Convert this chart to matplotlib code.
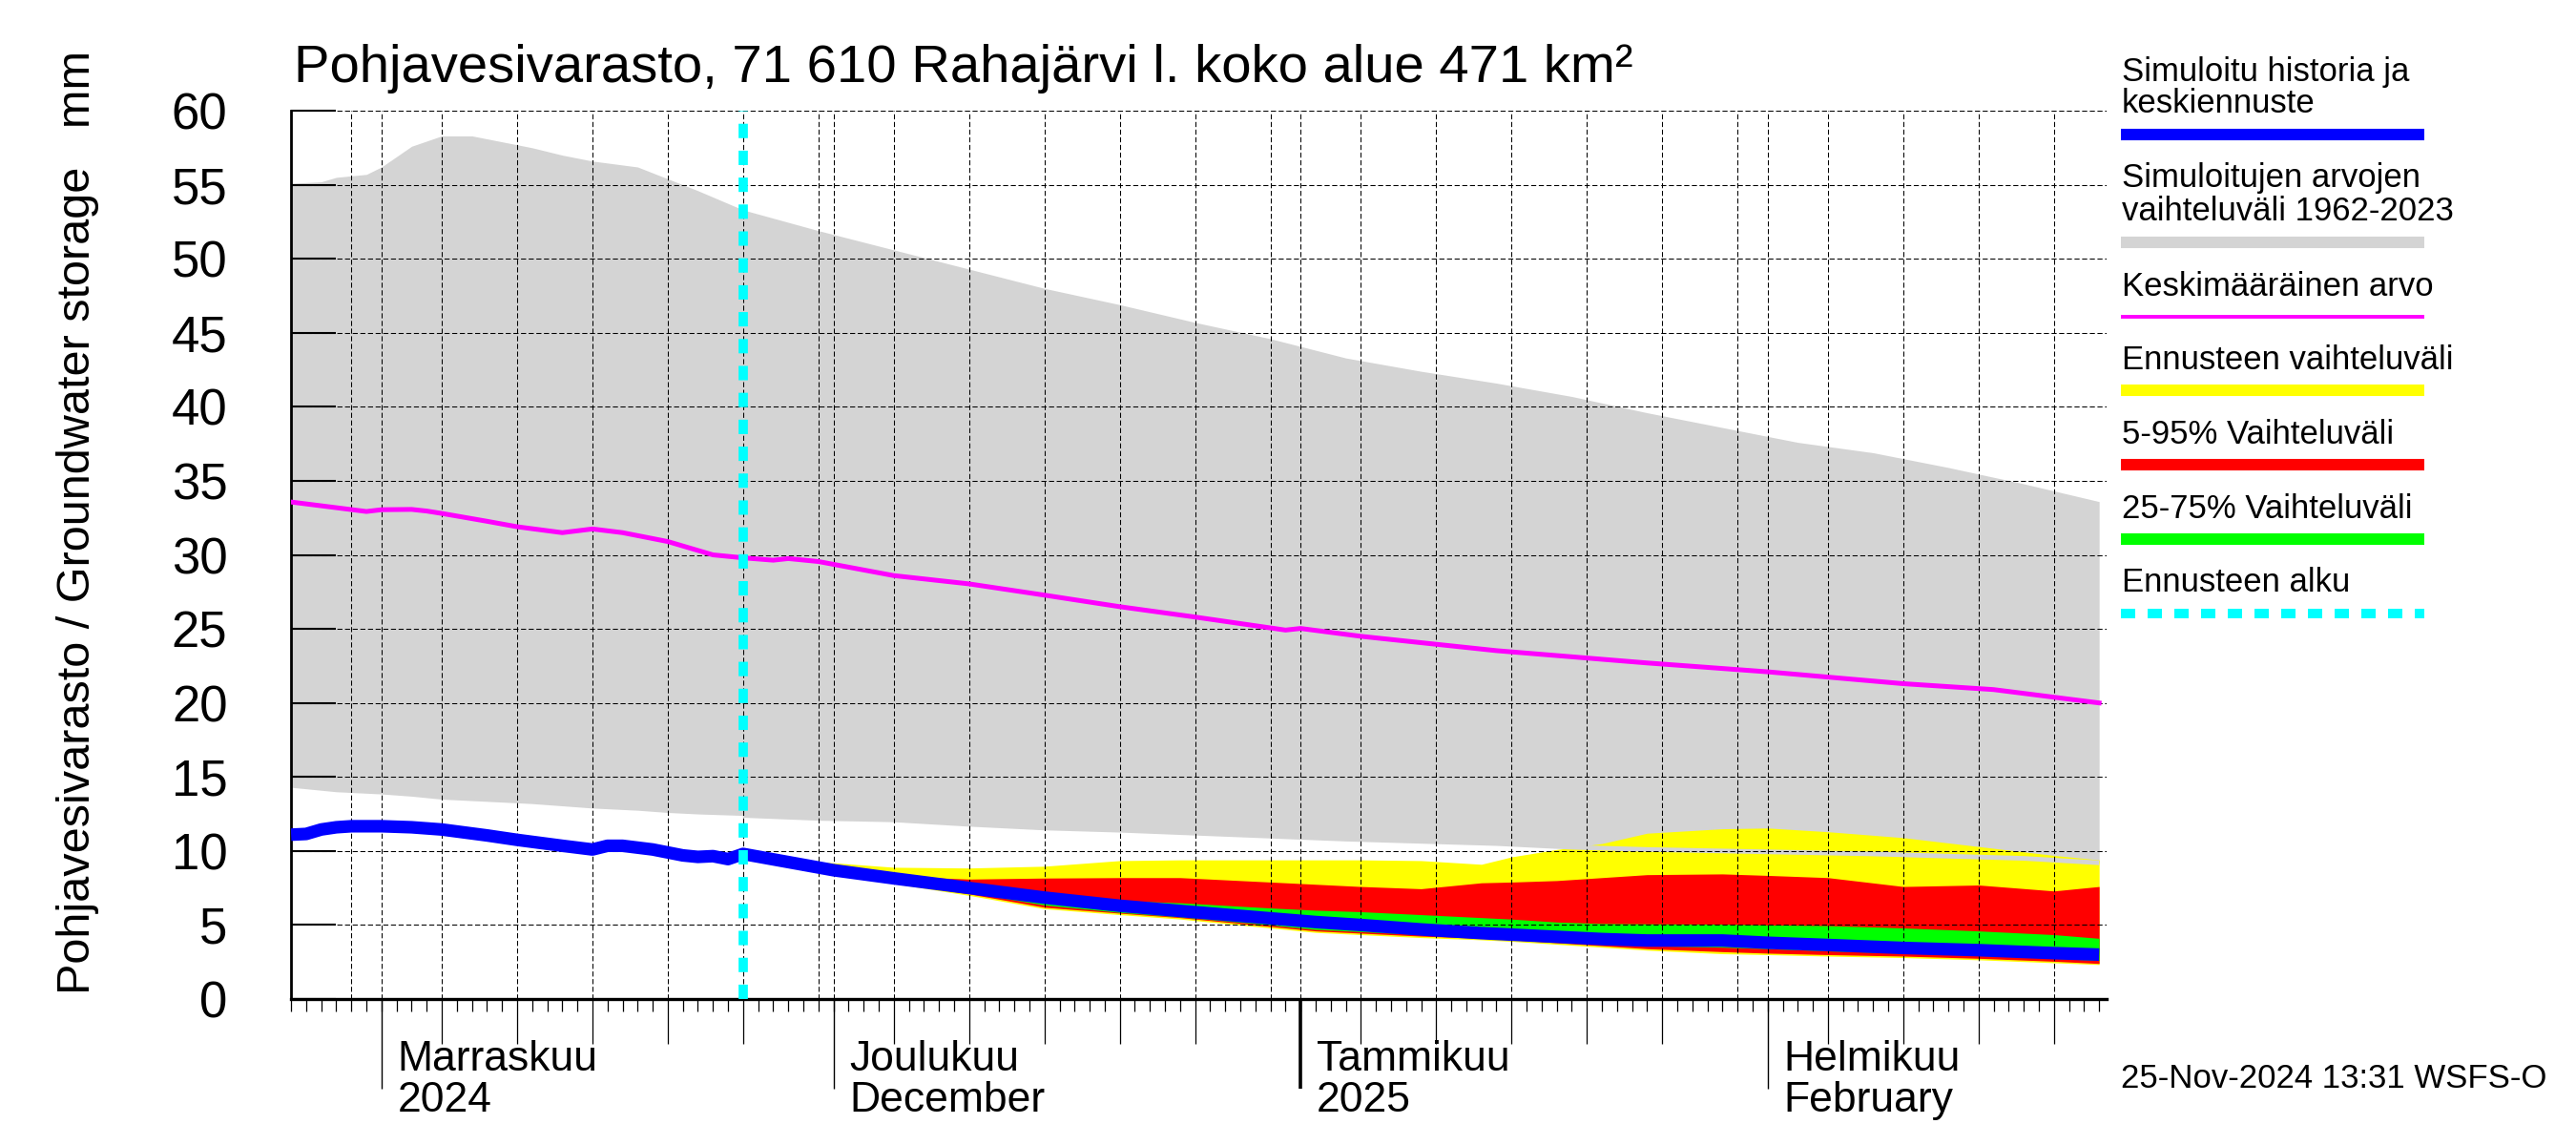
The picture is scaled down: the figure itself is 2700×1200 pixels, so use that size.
import matplotlib
matplotlib.use('Agg')
import matplotlib.pyplot as plt
import matplotlib.dates as mdates
from matplotlib.lines import Line2D
from matplotlib.ticker import NullFormatter
from datetime import datetime, timedelta

plt.rcParams['font.family'] = ['Liberation Sans', 'DejaVu Sans']


def days(lst):
    return [datetime.strptime(s, '%Y-%m-%d') for s in lst]


# vaihteluväli 1962-2023 (harmaa alue)
range_dates = days(['2024-10-26', '2024-10-28', '2024-10-29', '2024-10-31', '2024-11-01',
                    '2024-11-03', '2024-11-05', '2024-11-07', '2024-11-09', '2024-11-11',
                    '2024-11-13', '2024-11-15', '2024-11-18', '2024-11-20', '2024-11-22',
                    '2024-11-25', '2024-11-30', '2024-12-05', '2024-12-10', '2024-12-15',
                    '2024-12-20', '2024-12-25', '2024-12-30', '2025-01-04', '2025-01-09',
                    '2025-01-14', '2025-01-19', '2025-01-24', '2025-01-29', '2025-02-03',
                    '2025-02-08', '2025-02-13', '2025-02-18', '2025-02-23'])
range_max = [55.1, 55.2, 55.5, 55.7, 56.2, 57.6, 58.3, 58.3, 57.9, 57.5,
             57.0, 56.6, 56.2, 55.4, 54.6, 53.3, 51.9, 50.6, 49.3, 48.0,
             46.9, 45.7, 44.6, 43.3, 42.4, 41.6, 40.7, 39.6, 38.6, 37.6,
             36.9, 35.9, 34.8, 33.6]
range_min = [14.3, 14.1, 14.0, 13.9, 13.85, 13.7, 13.5, 13.4, 13.3, 13.2,
             13.05, 12.9, 12.75, 12.6, 12.5, 12.4, 12.2, 12.1, 11.8, 11.55,
             11.4, 11.2, 11.0, 10.8, 10.65, 10.5, 10.25, 10.1, 10.0, 9.9,
             9.8, 9.65, 9.5, 9.2]

# keskimääräinen arvo
mean_dates = days(['2024-10-26', '2024-10-31', '2024-11-01', '2024-11-03', '2024-11-04',
                   '2024-11-05', '2024-11-08', '2024-11-10', '2024-11-13', '2024-11-15',
                   '2024-11-17', '2024-11-20', '2024-11-23', '2024-11-25', '2024-11-27',
                   '2024-11-28', '2024-11-30', '2024-12-05', '2024-12-10', '2024-12-15',
                   '2024-12-20', '2024-12-25', '2024-12-31', '2025-01-01', '2025-01-05',
                   '2025-01-14', '2025-01-24', '2025-02-01', '2025-02-10', '2025-02-16',
                   '2025-02-23'])
mean_vals = [33.57, 32.93, 33.05, 33.07, 32.96, 32.8, 32.27, 31.9, 31.5, 31.75,
             31.5, 30.9, 30.0, 29.8, 29.64, 29.75, 29.55, 28.6, 28.04, 27.28,
             26.5, 25.8, 24.92, 25.03, 24.5, 23.53, 22.7, 22.1, 21.3, 20.9,
             20.0]

# simuloitu historia
hist_dates = days(['2024-10-26', '2024-10-27', '2024-10-28', '2024-10-29', '2024-10-30',
                   '2024-11-01', '2024-11-03', '2024-11-05', '2024-11-08', '2024-11-10',
                   '2024-11-13', '2024-11-15', '2024-11-16', '2024-11-17', '2024-11-19',
                   '2024-11-21', '2024-11-22', '2024-11-23', '2024-11-24', '2024-11-25'])
hist_vals = [11.1, 11.15, 11.45, 11.6, 11.67, 11.67, 11.6, 11.45, 11.05, 10.75,
             10.35, 10.1, 10.35, 10.35, 10.1, 9.7, 9.6, 9.65, 9.45, 9.8]

# ennuste
fc_dates = days(['2024-11-25', '2024-11-28', '2024-12-01', '2024-12-05', '2024-12-10',
                 '2024-12-15', '2024-12-20', '2024-12-24', '2024-12-30', '2025-01-02',
                 '2025-01-05', '2025-01-09', '2025-01-13', '2025-01-15', '2025-01-18',
                 '2025-01-21', '2025-01-24', '2025-01-29', '2025-02-01', '2025-02-05',
                 '2025-02-10', '2025-02-15', '2025-02-20', '2025-02-23'])
fc_median = [9.8, 9.25, 8.7, 8.15, 7.5, 6.85, 6.3, 5.95, 5.45, 5.2,
             5.0, 4.7, 4.45, 4.35, 4.2, 4.05, 3.95, 3.95, 3.8, 3.65,
             3.45, 3.3, 3.1, 3.0]
fc_max = [9.8, 9.4, 9.2, 8.9, 8.85, 8.97, 9.35, 9.4, 9.4, 9.4,
          9.4, 9.35, 9.1, 9.6, 10.1, 10.5, 11.2, 11.5, 11.55, 11.3,
          10.9, 10.3, 9.7, 9.4]
fc_min = [9.8, 9.1, 8.5, 7.8, 7.0, 6.1, 5.7, 5.4, 4.8, 4.5,
          4.35, 4.15, 4.0, 3.9, 3.7, 3.5, 3.3, 3.06, 3.0, 2.9,
          2.8, 2.65, 2.45, 2.33]
fc_p95 = [9.8, 9.25, 8.8, 8.3, 8.1, 8.17, 8.2, 8.2, 7.9, 7.75,
          7.6, 7.45, 7.85, 7.9, 8.0, 8.2, 8.4, 8.45, 8.35, 8.2,
          7.6, 7.7, 7.3, 7.6]
fc_p05 = [9.8, 9.15, 8.55, 7.85, 7.1, 6.2, 5.8, 5.5, 4.9, 4.6,
          4.45, 4.25, 4.1, 4.0, 3.8, 3.6, 3.4, 3.2, 3.1, 3.0,
          2.9, 2.75, 2.55, 2.4]
fc_p75 = [9.8, 9.3, 8.8, 8.25, 7.65, 7.05, 6.65, 6.5, 6.15, 6.0,
          5.9, 5.7, 5.5, 5.4, 5.2, 5.1, 5.08, 5.06, 5.0, 4.96,
          4.8, 4.6, 4.35, 4.1]
fc_p25 = [9.8, 9.1, 8.6, 7.95, 7.2, 6.35, 5.85, 5.55, 5.0, 4.7,
          4.55, 4.35, 4.2, 4.1, 3.95, 3.8, 3.6, 3.5, 3.4, 3.25,
          3.1, 2.95, 2.75, 2.6]

fc_start = datetime(2024, 11, 25)
x_start = datetime(2024, 10, 26)
x_end = datetime(2025, 2, 23, 12)

month_labels = [(datetime(2024, 11, 1), 'Marraskuu', '2024'),
                (datetime(2024, 12, 1), 'Joulukuu', 'December'),
                (datetime(2025, 1, 1), 'Tammikuu', '2025'),
                (datetime(2025, 2, 1), 'Helmikuu', 'February')]

GRAY = '#d4d4d4'
GRID_LS = (0, (5.1, 2.6))

fig = plt.figure(figsize=(27, 12), dpi=100)
ax = fig.add_axes([0.1130, 0.1275, 0.7048, 0.7758])

ax.fill_between(range_dates, range_min, range_max, color=GRAY, lw=0, zorder=1)
ax.fill_between(fc_dates, fc_min, fc_max, color='#ffff00', lw=0, zorder=1.5)
ax.fill_between(fc_dates, fc_p05, fc_p95, color='#ff0000', lw=0, zorder=1.6)
ax.fill_between(fc_dates, fc_p25, fc_p75, color='#00ff00', lw=0, zorder=1.7)
# harmaan alueen alareuna näkyy keltaisen päällä
rd = [d for d in range_dates if d >= fc_start]
rm = [v for d, v in zip(range_dates, range_min) if d >= fc_start]
ax.plot(rd, rm, color=GRAY, lw=3.5, zorder=1.8, solid_capstyle='butt')

ax.plot(mean_dates, mean_vals, color='#ff00ff', lw=3.6, zorder=3)
ax.plot(hist_dates + fc_dates[1:], hist_vals + fc_median[1:], color='#0000ff', lw=9.5,
        zorder=4, solid_capstyle='butt')
ax.axvline(fc_start, color='#00ffff', lw=7, dashes=(1.55, 1.35), zorder=5)

# ruudukko
ax.set_axisbelow(False)
ax.yaxis.grid(True, color='black', linestyle=GRID_LS, lw=0.75)
d = x_start
while d <= x_end:
    if d.day in (1, 5, 10, 15, 20, 25, 30):
        ax.axvline(d, color='black', linestyle=GRID_LS, lw=0.75, zorder=2.4)
    d += timedelta(days=1)

ax.set_xlim(x_start, x_end)
ax.set_ylim(0, 60)
ax.set_yticks(range(0, 61, 5))
ax.tick_params(axis='y', direction='in', length=34, width=1.5, labelsize=38, pad=48)

ax.xaxis.set_major_locator(mdates.DayLocator(bymonthday=[5, 10, 15, 20, 25]))
ax.xaxis.set_minor_locator(mdates.DayLocator())
ax.xaxis.set_major_formatter(NullFormatter())
ax.tick_params(axis='x', which='major', direction='out', length=34, width=0.9, labelbottom=False)
ax.tick_params(axis='x', which='minor', direction='out', length=9.4, width=0.9)

for sel, w in ((lambda m: m.month != 1, 1.0), (lambda m: m.month == 1, 2.6)):
    sec = ax.secondary_xaxis('bottom')
    sec.set_xticks([mdates.date2num(m[0]) for m in month_labels if sel(m[0])])
    sec.tick_params(axis='x', direction='out', length=68, width=w, labelbottom=False)
    sec.spines['bottom'].set_visible(False)

for s in ('top', 'right'):
    ax.spines[s].set_visible(False)
ax.spines['left'].set_linewidth(2)
ax.spines['bottom'].set_linewidth(2.4)

for m, l1, l2 in month_labels:
    ax.annotate(l1, xy=(m, 0), xycoords=('data', 'axes fraction'), xytext=(12, -54),
                textcoords='offset points', ha='left', va='baseline', fontsize=32)
    ax.annotate(l2, xy=(m, 0), xycoords=('data', 'axes fraction'), xytext=(12, -85),
                textcoords='offset points', ha='left', va='baseline', fontsize=32)

fig.text(0.114, 1 - 86 / 1200, 'Pohjavesivarasto, 71 610 Rahajärvi l. koko alue 471 km²',
         fontsize=40.5, va='baseline', ha='left')
fig.text(94 / 2700, 1 - 1042 / 1200, 'Pohjavesivarasto / Groundwater storage   mm',
         fontsize=35, rotation=90, rotation_mode='anchor', ha='left', va='baseline')
fig.text(2223 / 2700, 0.05, '25-Nov-2024 13:31 WSFS-O', fontsize=25, va='baseline')

# selite
legend_items = [
    (['Simuloitu historia ja', 'keskiennuste'], [84.6, 118], 141.4, '#0000ff', 8.7, None),
    (['Simuloitujen arvojen', 'vaihteluväli 1962-2023'], [196.4, 230.7], 254.3, GRAY, 8.7, None),
    (['Keskimääräinen arvo'], [310], 332.4, '#ff00ff', 2.8, None),
    (['Ennusteen vaihteluväli'], [387.2], 409.3, '#ffff00', 8.7, None),
    (['5-95% Vaihteluväli'], [464.9], 487.4, '#ff0000', 8.7, None),
    (['25-75% Vaihteluväli'], [542.5], 565.5, '#00ff00', 8.7, None),
    (['Ennusteen alku'], [620.1], 642.5, '#00ffff', 7.2, (1.5, 1.3)),
]
for lines, ys, ybar, col, lw, dash in legend_items:
    for txt, y in zip(lines, ys):
        fig.text(2224 / 2700, 1 - y / 1200, txt, fontsize=25, va='baseline', ha='left')
    ln = Line2D([2223 / 2700, 2541 / 2700], [1 - ybar / 1200] * 2, transform=fig.transFigure,
                color=col, lw=lw, solid_capstyle='butt')
    if dash:
        ln.set_dashes(dash)
    fig.add_artist(ln)

fig.savefig('out.png', dpi=100)
